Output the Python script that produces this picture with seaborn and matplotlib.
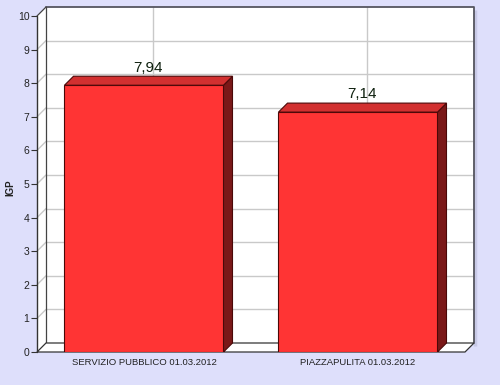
import matplotlib
matplotlib.use("Agg")
import matplotlib.pyplot as plt
import seaborn as sns
import pandas as pd
from matplotlib.patches import Polygon

categories = ["SERVIZIO PUBBLICO 01.03.2012", "PIAZZAPULITA 01.03.2012"]
values = [7.94, 7.14]
value_labels = ["7,94", "7,14"]
y_ticks = list(range(0, 11))

sns.set_theme(style="white")
plt.rcParams['font.family'] = ['Liberation Sans', 'DejaVu Sans']

BG = "#DEDFFB"
FRONT = "#FF3434"
SIDE = "#7A1818"
TOP = "#D23030"
EDGE = "#4A0808"
GRID = "#C9C9C9"

fig = plt.figure(figsize=(5, 3.85), dpi=100, facecolor=BG)
ax = fig.add_axes([37/500, 1-352/385, 428/500, 336/385])
ax.set_facecolor("none")
ax.set_xlim(-0.5, 1.5)
ax.set_ylim(0, 10)
for s in ax.spines.values():
    s.set_visible(False)

# depth in data units (9 px)
dx = 9 / 214
dy = 9 / 33.6
x0, x1 = ax.get_xlim()
y0, y1 = ax.get_ylim()

# back wall
ax.add_patch(Polygon([(x0+dx, y0+dy), (x1+dx, y0+dy), (x1+dx, y1+dy), (x0+dx, y1+dy)],
                     closed=True, facecolor="white", edgecolor="none", clip_on=False, zorder=0))
# left wall
ax.add_patch(Polygon([(x0, y0), (x0+dx, y0+dy), (x0+dx, y1+dy), (x0, y1)],
                     closed=True, facecolor="white", edgecolor="none", clip_on=False, zorder=0))
# shadow of back wall
ax.plot([x1+dx+0.006, x1+dx+0.006], [y0+dy-0.1, y1+dy-0.1], color="#C8C9E6", lw=2.5,
        clip_on=False, zorder=0, solid_capstyle="butt")

# gridlines
for t in y_ticks[1:-1]:
    ax.plot([x0+dx, x1+dx], [t+dy, t+dy], color=GRID, lw=1, clip_on=False, zorder=0.5)
    ax.plot([x0, x0+dx], [t, t+dy], color=GRID, lw=1, clip_on=False, zorder=0.5)
for i in range(len(categories)):
    ax.plot([i+dx, i+dx], [y0+dy, y1+dy], color=GRID, lw=1, clip_on=False, zorder=0.5)

# back wall borders
ax.plot([x0+dx, x1+dx, x1+dx], [y1+dy, y1+dy, y0+dy], color="#55555F", lw=1.3, clip_on=False, zorder=0.6)
ax.plot([x0, x0+dx], [y1, y1+dy], color="#444444", lw=0.9, clip_on=False, zorder=0.6)
ax.plot([x0+dx, x0+dx], [y0+dy, y1+dy], color="#444444", lw=0.9, clip_on=False, zorder=0.6)

# floor
ax.add_patch(Polygon([(x0, y0), (x1, y0), (x1+dx, y0+dy), (x0+dx, y0+dy)],
                     closed=True, facecolor="white", edgecolor="#333333", lw=0.9, clip_on=False, zorder=0.7))

df = pd.DataFrame({"cat": categories, "val": values})
sns.barplot(data=df, x="cat", y="val", color=FRONT, saturation=1, width=0.743,
            edgecolor=EDGE, linewidth=0.8, ax=ax, zorder=2)
ax.set_xlim(x0, x1)
ax.set_ylim(y0, y1)

bars = list(ax.containers[0])
for p, lab in zip(bars, value_labels):
    bx, bw, bh = p.get_x(), p.get_width(), p.get_height()
    ax.add_patch(Polygon([(bx+bw, 0), (bx+bw+dx, dy), (bx+bw+dx, bh+dy), (bx+bw, bh)],
                         closed=True, facecolor=SIDE, edgecolor=EDGE, lw=0.8, zorder=2))
    ax.add_patch(Polygon([(bx, bh), (bx+dx, bh+dy), (bx+bw+dx, bh+dy), (bx+bw, bh)],
                         closed=True, facecolor=TOP, edgecolor=EDGE, lw=0.8, zorder=2))
    ax.text(bx + bw/2 + dx/2, bh + dy + 0.05, lab, ha="center", va="bottom",
            fontsize=11, color="#0E200E", zorder=3)

# front axes lines
ax.plot([x0, x0], [y0, y1], color="#333333", lw=1, clip_on=False, zorder=3)
ax.set_yticks(y_ticks)
ax.set_yticklabels([str(t) for t in y_ticks], fontsize=7.5, color="#222222")
ax.tick_params(axis="y", left=True, length=4, width=0.8, color="#333333", pad=1.5)
ax.tick_params(axis="x", bottom=False, length=0, pad=4)
ax.set_xticks(range(len(categories)))
ax.set_xticklabels(categories, fontsize=6.8, color="#222222")
ax.set_xlabel("")
ax.set_ylabel("")
fig.text(10/500, 1-188/385, "IGP", rotation=90, ha="center", va="center",
         fontsize=7, fontweight="bold", color="#222222")

fig.savefig("out.png", dpi=100, facecolor=BG)
